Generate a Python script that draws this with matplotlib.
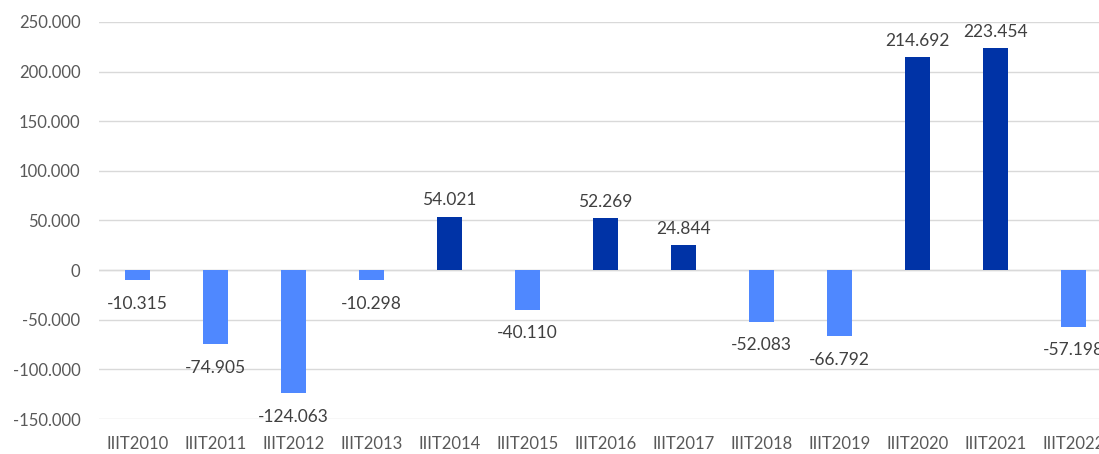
import matplotlib
matplotlib.use("Agg")
import matplotlib.pyplot as plt
from matplotlib.ticker import FuncFormatter

categories = ["IIIT2010", "IIIT2011", "IIIT2012", "IIIT2013", "IIIT2014", "IIIT2015",
              "IIIT2016", "IIIT2017", "IIIT2018", "IIIT2019", "IIIT2020", "IIIT2021", "IIIT2022"]
values = [-10315, -74905, -124063, -10298, 54021, -40110, 52269, 24844,
          -52083, -66792, 214692, 223454, -57198]
yticks = [-150000, -100000, -50000, 0, 50000, 100000, 150000, 200000, 250000]

POS = "#0033A6"
NEG = "#4F88FF"

def fmt(v):
    return f"{v:,.0f}".replace(",", ".")

plt.rcParams['font.family'] = ['Lato', 'DejaVu Sans']

fig = plt.figure(figsize=(10.99, 4.54), dpi=100)
ax = fig.add_axes([98.5 / 1099, 35 / 454, 1014 / 1099, 397 / 454])

x = list(range(len(categories)))
colors = [POS if v >= 0 else NEG for v in values]
ax.bar(x, values, width=0.32, color=colors, zorder=3)

for xi, v in zip(x, values):
    if v >= 0:
        ax.annotate(fmt(v), (xi, v), xytext=(0, 6), textcoords="offset points",
                    ha="center", va="bottom", fontsize=12.5, color="#404040")
    else:
        ax.annotate(fmt(v), (xi, v), xytext=(0, -11), textcoords="offset points",
                    ha="center", va="top", fontsize=12.5, color="#404040")

ax.set_xlim(-0.5, len(categories) - 0.5)
ax.set_ylim(-150000, 250000)
ax.set_yticks(yticks)
ax.yaxis.set_major_formatter(FuncFormatter(lambda v, p: fmt(v)))
ax.set_xticks(x)
ax.set_xticklabels(categories)
ax.grid(axis="y", color="#D9D9D9", linewidth=1, zorder=0)
ax.axhline(0, color="#D9D9D9", linewidth=1, zorder=2)
for s in ax.spines.values():
    s.set_visible(False)
ax.tick_params(axis="both", length=0, labelsize=12, labelcolor="#595959")
ax.tick_params(axis="y", pad=13)
ax.tick_params(axis="x", pad=12)

fig.savefig("out.png", dpi=100)
